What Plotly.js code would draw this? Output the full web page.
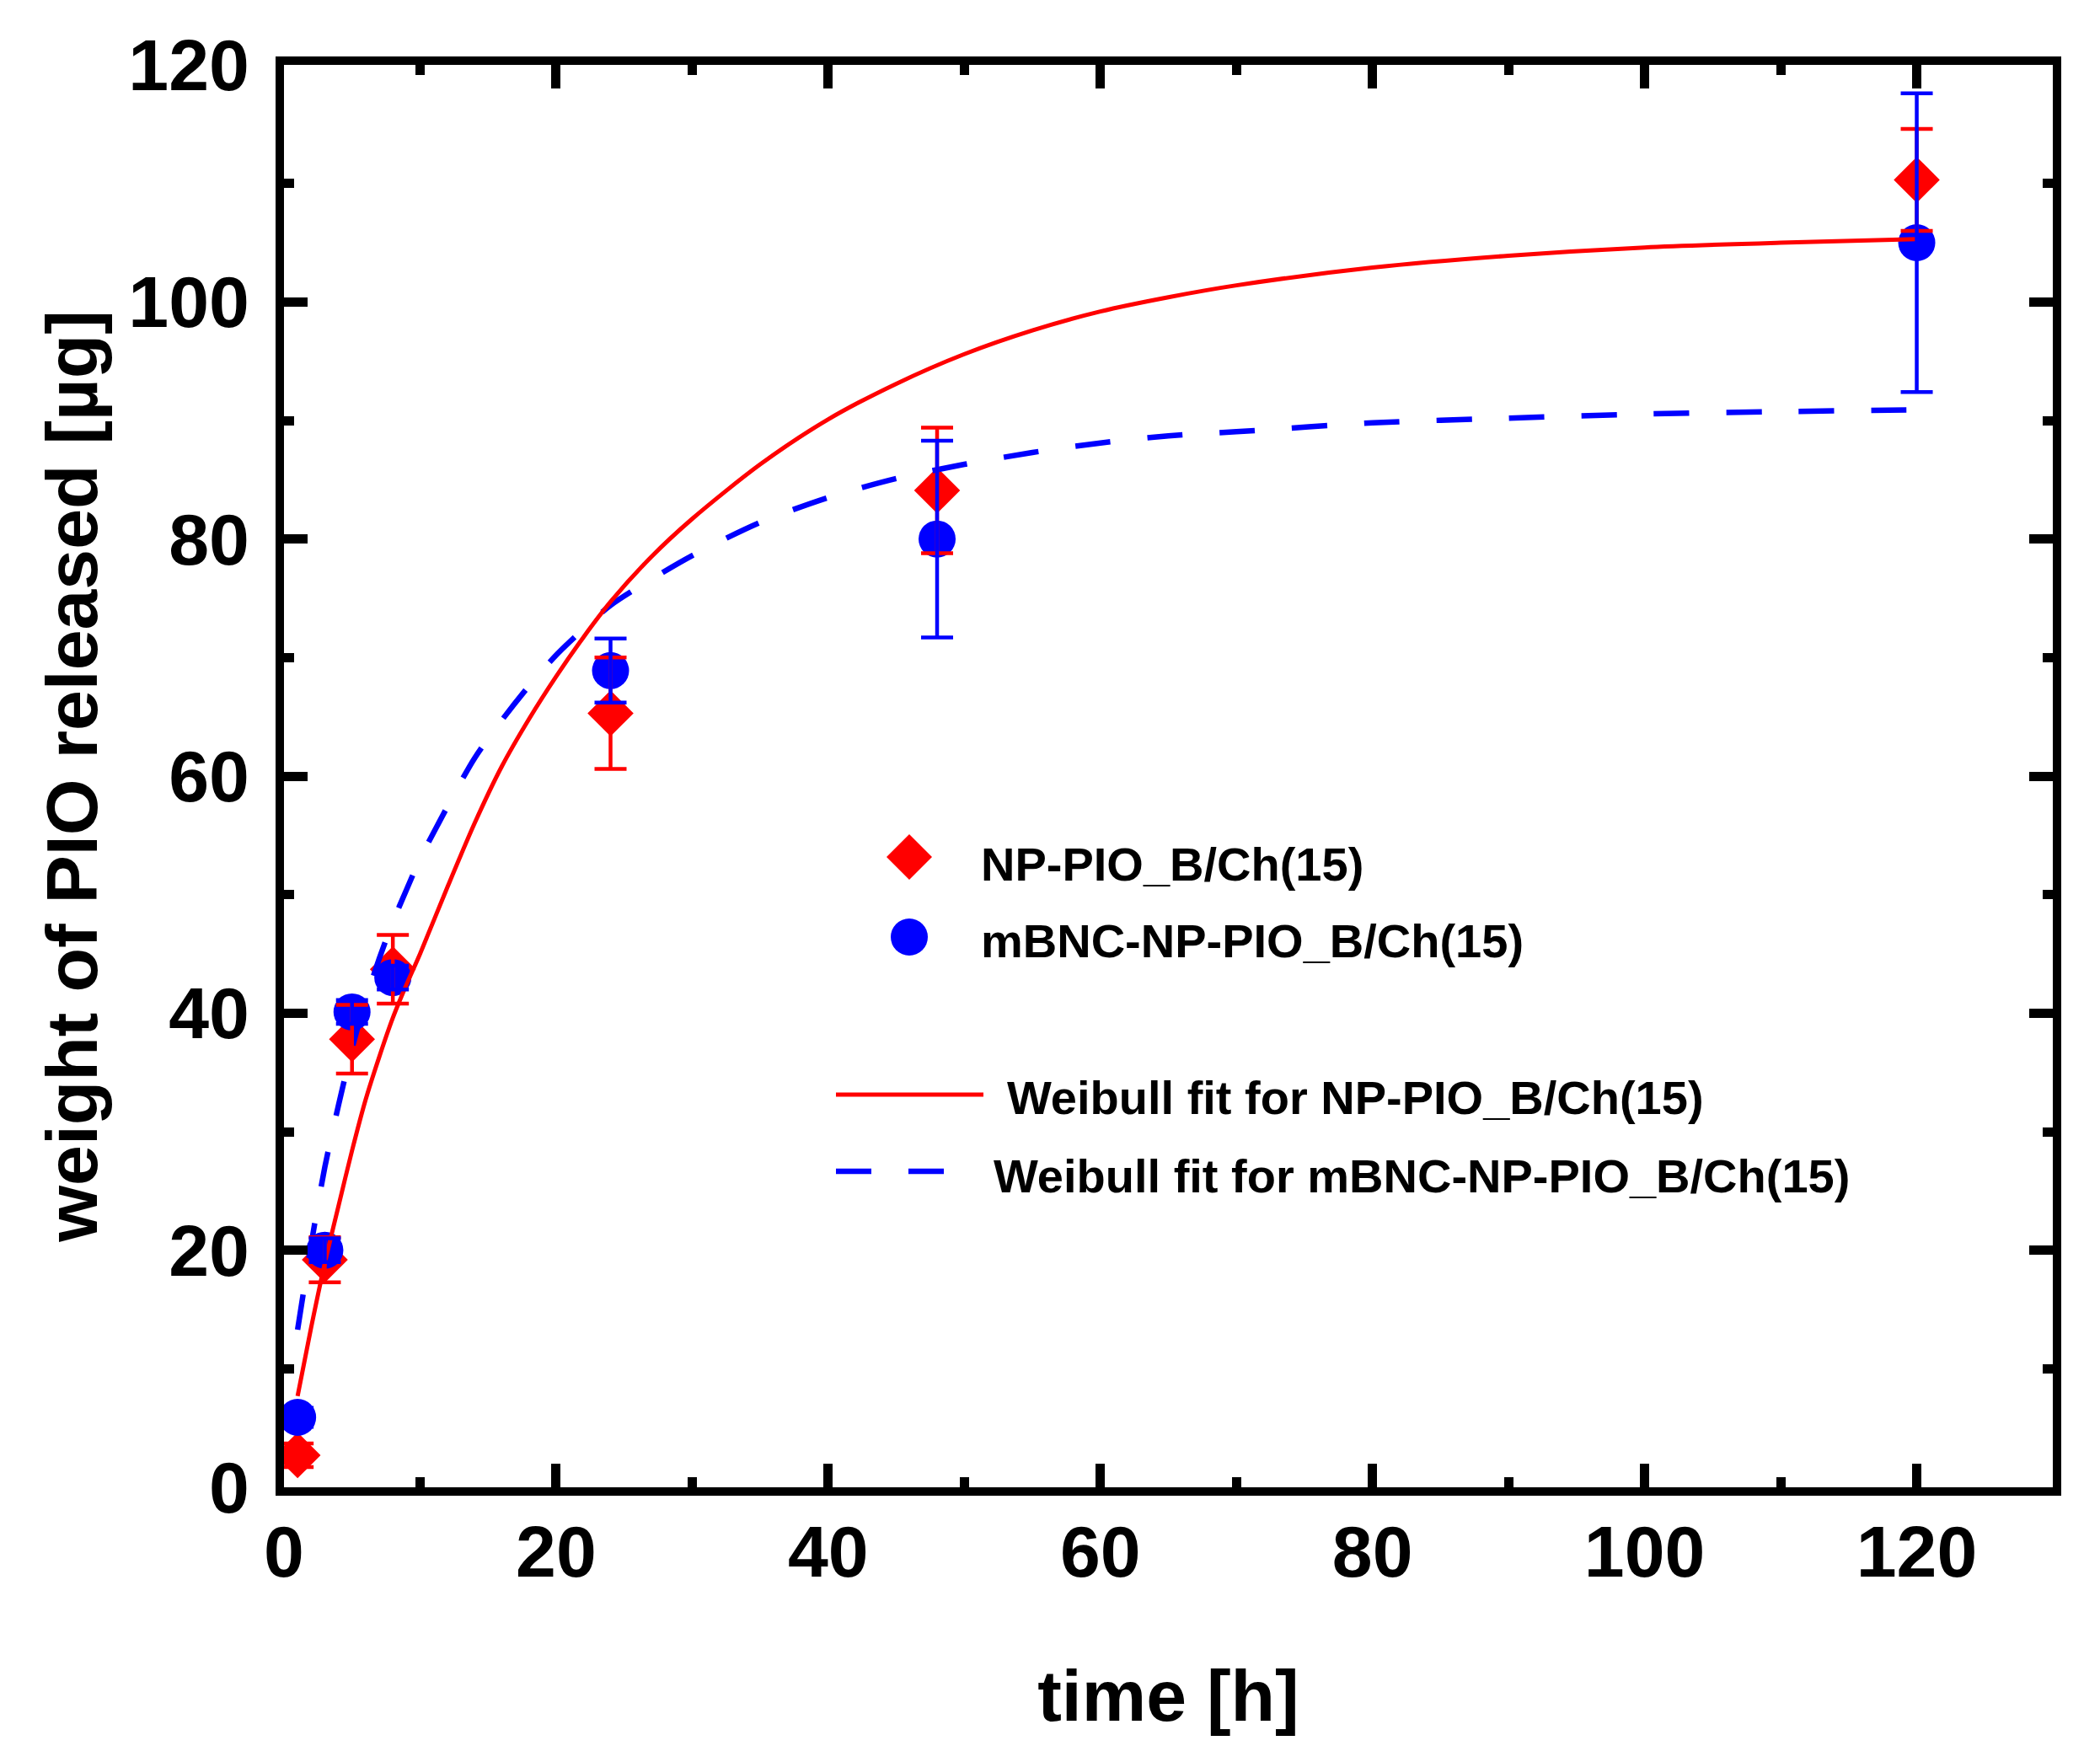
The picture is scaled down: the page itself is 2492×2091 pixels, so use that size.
<!DOCTYPE html>
<html>
<head>
<meta charset="utf-8">
<script src="https://cdn.plot.ly/plotly-3.0.1.min.js"></script>
<style>
  html, body { margin: 0; padding: 0; background: #fff; }
</style>
</head>
<body>
<div id="chart" style="width:2492px;height:2091px;"></div>
<script>
// measured points (time in h, weight in µg)
const timeH = [1, 3, 5, 8, 24, 48, 120];
const npPio = [2.7, 19.2, 37.8, 43.7, 65.3, 84.1, 110.3];
const npPioErr = [1.0, 1.9, 2.9, 2.9, 4.7, 5.3, 4.3];
const mbncNpPio = [5.9, 20.0, 40.1, 43.0, 68.9, 80.0, 105.0];
const mbncNpPioErr = [0.8, 1.0, 1.0, 1.0, 2.7, 8.3, 12.6];

// Weibull fit curves
const fitTime = [1, 2, 3, 4, 5, 6, 7, 8, 9, 10, 12, 14, 16, 18, 20, 22, 24, 27, 30, 35,
                 40, 45, 50, 55, 60, 65, 70, 80, 90, 100, 110, 120];
const fitNpPio = [7.7, 13.5, 18.9, 23.7, 28.4, 32.7, 36.3, 39.6, 42.4, 45.0, 50.6, 56.0, 60.8, 64.8, 68.4, 71.7, 74.7, 78.5, 81.7, 86.3,
                  90.1, 93.1, 95.6, 97.6, 99.2, 100.4, 101.4, 102.9, 103.9, 104.6, 105.0, 105.3];
const fitMbnc = [13.3, 20.5, 27.0, 32.2, 37.0, 41.1, 44.6, 47.7, 50.4, 53.0, 57.4, 61.5, 64.7, 67.6, 70.2, 72.4, 74.4, 76.6, 78.6, 81.4,
                 83.5, 85.1, 86.3, 87.3, 88.1, 88.7, 89.05, 89.8, 90.2, 90.55, 90.75, 90.9];

const legendLabels = ['NP-PIO_B/Ch(15)', 'mBNC-NP-PIO_B/Ch(15)',
                      'Weibull fit for NP-PIO_B/Ch(15)', 'Weibull fit for mBNC-NP-PIO_B/Ch(15)'];

const RED = '#ff0000';
const BLUE = '#0000ff';
const FONT = 'Liberation Sans, Arial, sans-serif';

const W = 2492, H = 2091;
const M = {l: 337, r: 56, t: 77, b: 326};
const pw = W - M.l - M.r, ph = H - M.t - M.b;
// pixel -> paper helpers for the hand placed legend
const px = X => (X - M.l) / pw;
const py = Y => (H - M.b - Y) / ph;

const traces = [
    {
        x: timeH, y: npPio, type: 'scatter', mode: 'markers', name: legendLabels[0],
        marker: {symbol: 'diamond', size: 42, color: RED, line: {width: 0}},
        showlegend: false
    },
    {
        x: timeH, y: mbncNpPio, type: 'scatter', mode: 'markers', name: legendLabels[1],
        marker: {symbol: 'circle', size: 44, color: BLUE, line: {width: 0}},
        showlegend: false
    },
    {
        x: fitTime, y: fitMbnc, type: 'scatter', mode: 'lines', name: legendLabels[3],
        line: {color: BLUE, width: 6.5, dash: '42px,44px', shape: 'spline', smoothing: 0.8},
        showlegend: false
    },
    {
        x: fitTime, y: fitNpPio, type: 'scatter', mode: 'lines', name: legendLabels[2],
        line: {color: RED, width: 5, shape: 'spline', smoothing: 0.8},
        showlegend: false
    },
    // error bars on top of everything
    {
        x: timeH, y: npPio, type: 'scatter', mode: 'markers',
        marker: {size: 2, color: 'rgba(0,0,0,0)'},
        error_y: {type: 'data', array: npPioErr, visible: true, color: RED, thickness: 4.5, width: 19},
        showlegend: false, hoverinfo: 'skip'
    },
    {
        x: timeH, y: mbncNpPio, type: 'scatter', mode: 'markers',
        marker: {size: 2, color: 'rgba(0,0,0,0)'},
        error_y: {type: 'data', array: mbncNpPioErr, visible: true, color: BLUE, thickness: 4.5, width: 19},
        showlegend: false, hoverinfo: 'skip'
    }
];

const axisBase = {
    showline: true, linewidth: 10, linecolor: '#000', mirror: 'allticks',
    ticks: 'inside', ticklen: 28, tickwidth: 11, tickcolor: '#000',
    showgrid: false, zeroline: false, automargin: false,
    tickfont: {family: FONT, size: 86, weight: 'bold', color: '#000'},
    minor: {ticks: 'inside', ticklen: 12, tickwidth: 11, tickcolor: '#000', dtick: 10, showgrid: false}
};

const titleFont = {family: FONT, size: 86, weight: 'bold', color: '#000'};
const legFont = {family: FONT, size: 56, weight: 'bold', color: '#000'};

const layout = {
    width: W, height: H,
    margin: M,
    paper_bgcolor: '#fff', plot_bgcolor: '#fff',
    showlegend: false,
    xaxis: Object.assign({}, axisBase, {
        range: [0, 130], tick0: 0, dtick: 20,
        ticklabelstandoff: -7,
        title: {text: 'time [h]', font: titleFont, standoff: 98}
    }),
    yaxis: Object.assign({}, axisBase, {
        range: [0, 120], tick0: 0, dtick: 20,
        ticklabelstandoff: 14,
        title: {text: 'weight of PIO released [µg]', font: titleFont, standoff: 12}
    }),
    shapes: [
        {type: 'path', xref: 'paper', yref: 'paper', xsizemode: 'pixel', ysizemode: 'pixel',
         xanchor: px(1079), yanchor: py(1017), path: 'M-27,0L0,27L27,0L0,-27Z',
         fillcolor: RED, line: {width: 0}},
        {type: 'circle', xref: 'paper', yref: 'paper', xsizemode: 'pixel', ysizemode: 'pixel',
         xanchor: px(1079), yanchor: py(1112), x0: -22, x1: 22, y0: -22, y1: 22,
         fillcolor: BLUE, line: {width: 0}},
        {type: 'line', xref: 'paper', yref: 'paper',
         x0: px(992), x1: px(1167), y0: py(1299), y1: py(1299),
         line: {color: RED, width: 5}},
        {type: 'line', xref: 'paper', yref: 'paper',
         x0: px(992), x1: px(1120), y0: py(1390), y1: py(1390),
         line: {color: BLUE, width: 6.5, dash: '42px,44px'}}
    ],
    annotations: [
        {text: legendLabels[0], x: px(1162), y: py(1025)},
        {text: legendLabels[1], x: px(1162), y: py(1116)},
        {text: legendLabels[2], x: px(1193), y: py(1302)},
        {text: legendLabels[3], x: px(1177), y: py(1395)}
    ].map(a => Object.assign(a, {
        xref: 'paper', yref: 'paper', xanchor: 'left', yanchor: 'middle',
        showarrow: false, font: legFont
    }))
};

Plotly.newPlot('chart', traces, layout, {staticPlot: true, displayModeBar: false});
</script>
</body>
</html>
